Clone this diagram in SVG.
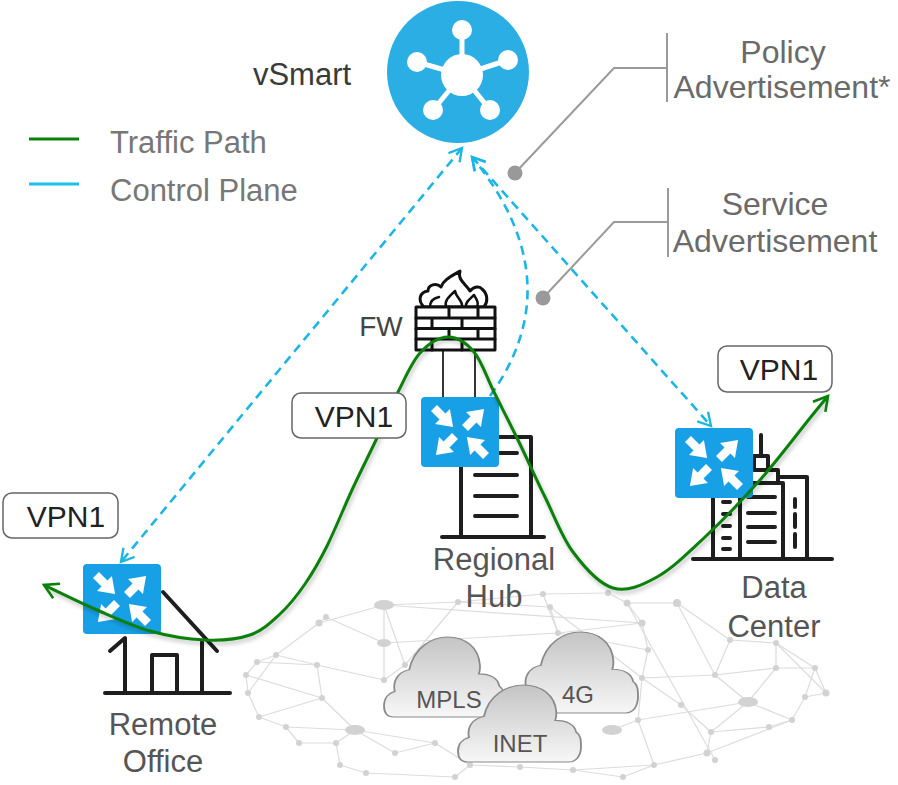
<svg xmlns="http://www.w3.org/2000/svg" xmlns:xlink="http://www.w3.org/1999/xlink" width="898" height="785" viewBox="0 0 898 785">
  <style>
    .lbl { font-family: "Liberation Sans", Arial, sans-serif; }
    .legend { font-size: 31px; fill: #777; }
    .adv { font-size: 32px; fill: #6a6a6a; text-anchor: middle; }
    .site { font-size: 31px; fill: #555; text-anchor: middle; }
    .vpn { font-size: 30px; fill: #222; text-anchor: middle; }
    .cloudtxt { font-size: 24px; fill: #555; text-anchor: middle; }
    .vpnbox { fill: #fff; stroke: #666; stroke-width: 1.5; }
    .icon { fill: none; stroke: #1e1e1e; stroke-width: 4; stroke-linecap: round; stroke-linejoin: round; }
    .fw { fill: #fff; stroke: #111; stroke-width: 3; }
    .mesh line { stroke: #dcdcdc; stroke-width: 1.2; }
    .mesh circle { fill: #d2d2d2; }
    .mesh ellipse { fill: #d2d2d2; }
    .ctrl { fill: none; stroke: #1cb6e6; stroke-width: 2.6; stroke-dasharray: 9 6; }
    .traffic { fill: none; stroke: #0b800b; stroke-width: 3; }
    .callout { fill: none; stroke: #9a9a9a; stroke-width: 2; }
    .cloud { stroke: #8a8a8a; stroke-width: 1.5; fill: url(#cloudFill); }
  </style>
  <defs>
    <linearGradient id="cloudFill" x1="0" y1="0" x2="0" y2="1">
      <stop offset="0" stop-color="#c4c4c4"/>
      <stop offset="1" stop-color="#f7f7f7"/>
    </linearGradient>
    <filter id="soft" x="-10%" y="-10%" width="120%" height="120%">
      <feGaussianBlur stdDeviation="2.2"/>
    </filter>
    <marker id="arrGreen" viewBox="0 0 20 20" markerWidth="20" markerHeight="20" refX="17" refY="10" orient="auto-start-reverse" markerUnits="userSpaceOnUse">
      <path d="M3,2 L17,10 L3,18" fill="none" stroke="#0b800b" stroke-width="2.6"/>
    </marker>
    <marker id="arrCyan" viewBox="0 0 20 20" markerWidth="18" markerHeight="18" refX="17" refY="10" orient="auto-start-reverse" markerUnits="userSpaceOnUse">
      <path d="M3,2 L17,10 L3,18" fill="none" stroke="#1cb6e6" stroke-width="2.6"/>
    </marker>
    <!-- arrow glyph used in the router badge, pointing along +x -->
    <path id="rArrow" d="M0,-4.2 L12,-4.2 L12,-10.5 L27,0 L12,10.5 L12,4.2 L0,4.2 Z" fill="#fff"/>
    <g id="router">
      <rect x="0" y="0" width="78" height="70" rx="4" fill="#18a0e6"/>
      <use xlink:href="#rArrow" transform="translate(13,11) rotate(45)"/>
      <use xlink:href="#rArrow" transform="translate(65,59) rotate(225)"/>
      <use xlink:href="#rArrow" transform="translate(44,31) rotate(-45)"/>
      <use xlink:href="#rArrow" transform="translate(34,39) rotate(135)"/>
    </g>
    <path id="cloudShape" d="M8,100 C2,100 0,94 0,86 C0,76 4,70 9,68 C7,56 11,44 21,41 C25,13 40,0 53,0 C67,0 79,12 80,36 C80,40 80,43 79,46 C89,46 95,52 96,61 C100,65 100,72 100,80 C100,92 96,100 90,100 Z"/>
  </defs>

  <!-- background mesh -->
  <g id="mesh" class="mesh">
    <line x1="384" y1="605" x2="458" y2="602"/>
    <line x1="384" y1="605" x2="384" y2="643"/>
    <line x1="384" y1="605" x2="319" y2="623"/>
    <line x1="384" y1="605" x2="642" y2="623"/>
    <line x1="458" y1="602" x2="543" y2="594"/>
    <line x1="458" y1="602" x2="550" y2="607"/>
    <line x1="543" y1="594" x2="608" y2="593"/>
    <line x1="550" y1="607" x2="558" y2="633"/>
    <line x1="558" y1="633" x2="642" y2="623"/>
    <line x1="558" y1="633" x2="543" y2="594"/>
    <line x1="608" y1="593" x2="627" y2="603"/>
    <line x1="627" y1="603" x2="642" y2="623"/>
    <line x1="627" y1="603" x2="677" y2="603"/>
    <line x1="627" y1="603" x2="715" y2="760"/>
    <line x1="642" y1="623" x2="648" y2="650"/>
    <line x1="677" y1="603" x2="730" y2="640"/>
    <line x1="648" y1="650" x2="642" y2="678"/>
    <line x1="648" y1="650" x2="558" y2="633"/>
    <line x1="642" y1="678" x2="715" y2="675"/>
    <line x1="642" y1="678" x2="681" y2="705"/>
    <line x1="642" y1="678" x2="638" y2="720"/>
    <line x1="715" y1="675" x2="748" y2="702"/>
    <line x1="715" y1="675" x2="730" y2="640"/>
    <line x1="715" y1="675" x2="776" y2="668"/>
    <line x1="730" y1="640" x2="776" y2="643"/>
    <line x1="776" y1="643" x2="776" y2="668"/>
    <line x1="776" y1="643" x2="815" y2="668"/>
    <line x1="776" y1="668" x2="815" y2="668"/>
    <line x1="815" y1="668" x2="826" y2="693"/>
    <line x1="826" y1="693" x2="805" y2="697"/>
    <line x1="805" y1="697" x2="792" y2="720"/>
    <line x1="815" y1="668" x2="805" y2="697"/>
    <line x1="792" y1="720" x2="769" y2="727"/>
    <line x1="769" y1="727" x2="711" y2="732"/>
    <line x1="711" y1="732" x2="707" y2="753"/>
    <line x1="707" y1="753" x2="654" y2="765"/>
    <line x1="711" y1="732" x2="681" y2="705"/>
    <line x1="748" y1="702" x2="792" y2="720"/>
    <line x1="748" y1="702" x2="638" y2="720"/>
    <line x1="748" y1="702" x2="711" y2="732"/>
    <line x1="612" y1="730" x2="638" y2="720"/>
    <line x1="638" y1="720" x2="654" y2="765"/>
    <line x1="654" y1="765" x2="573" y2="770"/>
    <line x1="573" y1="770" x2="520" y2="767"/>
    <line x1="520" y1="767" x2="470" y2="765"/>
    <line x1="470" y1="765" x2="455" y2="777"/>
    <line x1="455" y1="777" x2="366" y2="773"/>
    <line x1="366" y1="773" x2="340" y2="765"/>
    <line x1="340" y1="765" x2="336" y2="743"/>
    <line x1="336" y1="743" x2="299" y2="743"/>
    <line x1="299" y1="743" x2="286" y2="727"/>
    <line x1="286" y1="727" x2="259" y2="717"/>
    <line x1="259" y1="717" x2="248" y2="693"/>
    <line x1="248" y1="693" x2="246" y2="675"/>
    <line x1="246" y1="675" x2="257" y2="662"/>
    <line x1="257" y1="662" x2="276" y2="655"/>
    <line x1="276" y1="655" x2="319" y2="623"/>
    <line x1="319" y1="623" x2="326" y2="617"/>
    <line x1="326" y1="617" x2="384" y2="643"/>
    <line x1="384" y1="643" x2="384" y2="680"/>
    <line x1="384" y1="680" x2="405" y2="665"/>
    <line x1="405" y1="665" x2="458" y2="602"/>
    <line x1="317" y1="665" x2="322" y2="698"/>
    <line x1="322" y1="698" x2="355" y2="730"/>
    <line x1="355" y1="730" x2="395" y2="753"/>
    <line x1="395" y1="753" x2="435" y2="743"/>
    <line x1="435" y1="743" x2="470" y2="765"/>
    <line x1="276" y1="655" x2="317" y2="665"/>
    <line x1="317" y1="665" x2="384" y2="680"/>
    <line x1="257" y1="662" x2="317" y2="665"/>
    <line x1="246" y1="675" x2="322" y2="698"/>
    <line x1="355" y1="730" x2="336" y2="743"/>
    <line x1="286" y1="727" x2="355" y2="730"/>
    <line x1="259" y1="717" x2="322" y2="698"/>
    <line x1="384" y1="605" x2="405" y2="665"/>
    <line x1="550" y1="607" x2="642" y2="678"/>
    <line x1="384" y1="643" x2="558" y2="633"/>
    <line x1="654" y1="765" x2="623" y2="777"/>
    <line x1="623" y1="777" x2="573" y2="770"/>
    <line x1="707" y1="753" x2="792" y2="720"/>
    <line x1="776" y1="668" x2="748" y2="702"/>
    <line x1="677" y1="603" x2="715" y2="675"/>
    <line x1="355" y1="730" x2="435" y2="743"/>
    <line x1="276" y1="655" x2="248" y2="693"/>
    <line x1="826" y1="693" x2="776" y2="643"/>
    <ellipse cx="384" cy="605" rx="10" ry="5"/>
    <ellipse cx="748" cy="702" rx="10" ry="5"/>
    <ellipse cx="612" cy="730" rx="10" ry="5"/>
    <ellipse cx="355" cy="730" rx="10" ry="5"/>
    <ellipse cx="384" cy="643" rx="7" ry="4"/>
    <circle cx="458" cy="602" r="3"/>
    <circle cx="543" cy="594" r="3"/>
    <circle cx="550" cy="607" r="3"/>
    <circle cx="558" cy="633" r="3"/>
    <circle cx="608" cy="593" r="3"/>
    <circle cx="627" cy="603" r="3.5"/>
    <circle cx="642" cy="623" r="3.5"/>
    <circle cx="677" cy="603" r="4"/>
    <circle cx="648" cy="650" r="3"/>
    <circle cx="642" cy="678" r="3"/>
    <circle cx="715" cy="675" r="3"/>
    <circle cx="776" cy="668" r="3"/>
    <circle cx="815" cy="668" r="3"/>
    <circle cx="826" cy="693" r="3.5"/>
    <circle cx="805" cy="697" r="3"/>
    <circle cx="792" cy="720" r="3"/>
    <circle cx="769" cy="727" r="3"/>
    <circle cx="711" cy="732" r="3"/>
    <circle cx="707" cy="753" r="3.5"/>
    <circle cx="681" cy="705" r="3"/>
    <circle cx="638" cy="720" r="3"/>
    <circle cx="654" cy="765" r="3"/>
    <circle cx="573" cy="770" r="3"/>
    <circle cx="520" cy="767" r="3"/>
    <circle cx="470" cy="765" r="3"/>
    <circle cx="435" cy="743" r="3"/>
    <circle cx="395" cy="753" r="3"/>
    <circle cx="336" cy="743" r="3"/>
    <circle cx="299" cy="743" r="3"/>
    <circle cx="286" cy="727" r="3"/>
    <circle cx="259" cy="717" r="3"/>
    <circle cx="248" cy="693" r="3"/>
    <circle cx="246" cy="675" r="3"/>
    <circle cx="257" cy="662" r="3"/>
    <circle cx="276" cy="655" r="3"/>
    <circle cx="319" cy="623" r="3.5"/>
    <circle cx="326" cy="617" r="3"/>
    <circle cx="317" cy="665" r="3"/>
    <circle cx="322" cy="698" r="3"/>
    <circle cx="384" cy="680" r="3"/>
    <circle cx="405" cy="665" r="3"/>
    <circle cx="340" cy="765" r="3"/>
    <circle cx="366" cy="773" r="3"/>
    <circle cx="455" cy="777" r="3"/>
    <circle cx="623" cy="777" r="3"/>
    <circle cx="730" cy="640" r="3"/>
    <circle cx="776" cy="643" r="3"/>
    <circle cx="715" cy="760" r="3"/>
  </g>

  <!-- transport clouds -->
  <g id="cloud-mpls">
    <use xlink:href="#cloudShape" class="cloud" transform="translate(384,637) scale(1.2,0.8)"/>
    <text class="lbl cloudtxt" x="449" y="708">MPLS</text>
  </g>
  <g id="cloud-4g">
    <use xlink:href="#cloudShape" class="cloud" transform="translate(515,632) scale(1.23,0.81)"/>
    <text class="lbl cloudtxt" x="578" y="703">4G</text>
  </g>
  <g id="cloud-inet">
    <use xlink:href="#cloudShape" class="cloud" transform="translate(458,685) scale(1.23,0.77)"/>
    <text class="lbl cloudtxt" x="520" y="752">INET</text>
  </g>

  <!-- legend -->
  <g id="legend">
    <line x1="29" y1="139" x2="79" y2="139" stroke="#0b800b" stroke-width="3"/>
    <text class="lbl legend" x="110" y="153">Traffic Path</text>
    <line x1="29" y1="184" x2="79" y2="184" stroke="#1cc0ee" stroke-width="3"/>
    <text class="lbl legend" x="110" y="201">Control Plane</text>
  </g>

  <!-- vSmart controller -->
  <g id="vsmart">
    <circle cx="458" cy="72" r="71" fill="#2aaee3"/>
    <g stroke="#fff" stroke-width="5">
      <line x1="462" y1="75" x2="462" y2="30"/>
      <line x1="462" y1="75" x2="417" y2="62"/>
      <line x1="462" y1="75" x2="508" y2="60"/>
      <line x1="462" y1="75" x2="433" y2="110"/>
      <line x1="462" y1="75" x2="490" y2="110"/>
    </g>
    <g fill="#fff">
      <circle cx="462" cy="75" r="21"/>
      <circle cx="462" cy="30" r="10"/>
      <circle cx="417" cy="62" r="10"/>
      <circle cx="508" cy="60" r="10"/>
      <circle cx="433" cy="110" r="10"/>
      <circle cx="490" cy="110" r="10"/>
    </g>
    <text class="lbl" x="302" y="85" font-size="31" fill="#3a3a3a" text-anchor="middle">vSmart</text>
  </g>

  <!-- callouts -->
  <g id="policy-callout">
    <path class="callout" d="M667,33 V102 M667,68 H614 L515,173"/>
    <circle cx="515" cy="173" r="7.5" fill="#999"/>
    <text class="lbl adv" x="783" y="63">Policy</text>
    <text class="lbl adv" x="782" y="98">Advertisement*</text>
  </g>
  <g id="service-callout">
    <path class="callout" d="M668,188 V257 M668,222 H614 L543,298"/>
    <circle cx="543" cy="298" r="7.5" fill="#999"/>
    <text class="lbl adv" x="775" y="215">Service</text>
    <text class="lbl adv" x="775" y="252">Advertisement</text>
  </g>

  <!-- regional hub -->
  <g id="regional-hub">
    <path class="icon" d="M461,437 H531 V537 M461,437 V537 M442,537 H544 M475,453 H517 M475,475 H517 M475,496 H517 M475,516 H517"/>
    <line x1="443" y1="350" x2="443" y2="397" stroke="#333" stroke-width="2"/>
    <line x1="475" y1="350" x2="475" y2="397" stroke="#333" stroke-width="2"/>
    <g id="firewall" stroke-linecap="round" stroke-linejoin="round">
      <path class="fw" stroke-width="2.5" d="M424,307 C417,300 420,292 428,291 C428,285 436,282 441,287 C443,280 452,276 460,271 C457,280 466,284 470,291 C474,286 480,286 482,289 C488,294 488,302 484,307 Z"/>
      <path fill="none" stroke="#111" stroke-width="2.5" d="M446,307 C444,300 450,296 455,291 C456,298 463,300 462,307 M466,307 C465,302 470,299 474,295 C477,300 479,303 477,307 M430,307 C430,301 434,298 439,297"/>
      <rect class="fw" x="416" y="307" width="79" height="43"/>
      <path fill="none" stroke="#111" stroke-width="3" d="M416,318 H495 M416,328.5 H495 M416,339 H495 M449,307 V318 M478,307 V318 M432,318 V328.5 M462,318 V328.5 M449,328.5 V339 M478,328.5 V339 M432,339 V350 M462,339 V350"/>
    </g>
    <text class="lbl" x="381" y="336" font-size="28" fill="#444" text-anchor="middle">FW</text>
    <use xlink:href="#router" x="421" y="397"/>
    <text class="lbl site" x="494" y="570">Regional</text>
    <text class="lbl site" x="494" y="607">Hub</text>
  </g>

  <!-- data center -->
  <g id="data-center">
    <g class="icon" stroke-width="3.5">
      <rect x="778" y="477" width="29" height="82" fill="#fff"/>
      <rect x="740" y="483" width="43" height="76" fill="#fff"/>
      <rect x="713" y="490" width="27" height="69" fill="#fff"/>
      <path d="M760,470 H778 V477"/>
      <rect x="754" y="456" width="14" height="14" fill="#fff"/>
      <path d="M761,435 V456"/>
      <path d="M748,497 H775 M748,513 H775 M748,527 H775 M748,542 H775"/>
      <path d="M723,502 H730 M723,514 H730 M723,526 H730 M723,538 H730 M723,549 H730"/>
      <path d="M795,499 V507 M795,514 V527 M795,534 V547"/>
      <path d="M693,559 H832"/>
    </g>
    <use xlink:href="#router" x="675" y="428"/>
    <text class="lbl site" x="774" y="598">Data</text>
    <text class="lbl site" x="774" y="637">Center</text>
  </g>

  <!-- remote office -->
  <g id="remote-office">
    <path class="icon" d="M163,592 L217,651 M110,651 L125,638 V693 M202,642 V693 M152,693 V655 H177 V693 M105,693 H230"/>
    <use xlink:href="#router" x="83" y="564"/>
    <text class="lbl site" x="163" y="735">Remote</text>
    <text class="lbl site" x="163" y="772">Office</text>
  </g>

  <!-- connectors -->
  <g id="connectors">
    <line class="ctrl" x1="462" y1="148" x2="121" y2="562" marker-start="url(#arrCyan)" marker-end="url(#arrCyan)"/>
    <line class="ctrl" x1="472" y1="157" x2="711" y2="426" marker-start="url(#arrCyan)" marker-end="url(#arrCyan)"/>
    <path class="ctrl" d="M490,396 C545,320 540,240 472,157" marker-end="url(#arrCyan)"/>
    <path fill="none" stroke="#000" stroke-opacity="0.25" stroke-width="3" filter="url(#soft)" transform="translate(1.5,3)" d="M44,585 C52.8,589.2 79.3,602.3 97,610 C114.7,617.7 132,626 150,631 C168,636 188.3,639.3 205,640 C221.7,640.7 237.5,639.3 250,635 C262.5,630.7 270.8,622.5 280,614 C289.2,605.5 297.2,595.3 305,584 C312.8,572.7 319.2,561.7 327,546 C334.8,530.3 343.7,508 352,490 C360.3,472 369.3,454.3 377,438 C384.7,421.7 390.8,406.2 398,392 C405.2,377.8 411.7,362.2 420,353 C428.3,343.8 439,337.2 448,337 C457,336.8 466.3,342.8 474,352 C481.7,361.2 486.7,377.3 494,392 C501.3,406.7 509.5,422.5 518,440 C526.5,457.5 535.8,478.3 545,497 C554.2,515.7 561.7,536.8 573,552 C584.3,567.2 599,583.8 613,588 C627,592.2 641.7,585.5 657,577 C672.3,568.5 687.8,553.2 705,537 C722.2,520.8 742.5,499.8 760,480 C777.5,460.2 798.7,432 810,418 C821.3,404 825,399.7 828,396"/>
    <path class="traffic" marker-start="url(#arrGreen)" marker-end="url(#arrGreen)" d="M44,585 C52.8,589.2 79.3,602.3 97,610 C114.7,617.7 132,626 150,631 C168,636 188.3,639.3 205,640 C221.7,640.7 237.5,639.3 250,635 C262.5,630.7 270.8,622.5 280,614 C289.2,605.5 297.2,595.3 305,584 C312.8,572.7 319.2,561.7 327,546 C334.8,530.3 343.7,508 352,490 C360.3,472 369.3,454.3 377,438 C384.7,421.7 390.8,406.2 398,392 C405.2,377.8 411.7,362.2 420,353 C428.3,343.8 439,337.2 448,337 C457,336.8 466.3,342.8 474,352 C481.7,361.2 486.7,377.3 494,392 C501.3,406.7 509.5,422.5 518,440 C526.5,457.5 535.8,478.3 545,497 C554.2,515.7 561.7,536.8 573,552 C584.3,567.2 599,583.8 613,588 C627,592.2 641.7,585.5 657,577 C672.3,568.5 687.8,553.2 705,537 C722.2,520.8 742.5,499.8 760,480 C777.5,460.2 798.7,432 810,418 C821.3,404 825,399.7 828,396"/>
  </g>

  <!-- VPN tags -->
  <g id="vpn-remote">
    <rect class="vpnbox" x="3" y="493" width="115" height="45" rx="9"/>
    <text class="lbl vpn" x="66" y="527">VPN1</text>
  </g>
  <g id="vpn-hub">
    <rect class="vpnbox" x="292" y="393" width="114" height="45" rx="9"/>
    <text class="lbl vpn" x="354" y="427">VPN1</text>
  </g>
  <g id="vpn-dc">
    <rect class="vpnbox" x="718" y="346" width="114" height="46" rx="9"/>
    <text class="lbl vpn" x="779" y="380">VPN1</text>
  </g>
</svg>
